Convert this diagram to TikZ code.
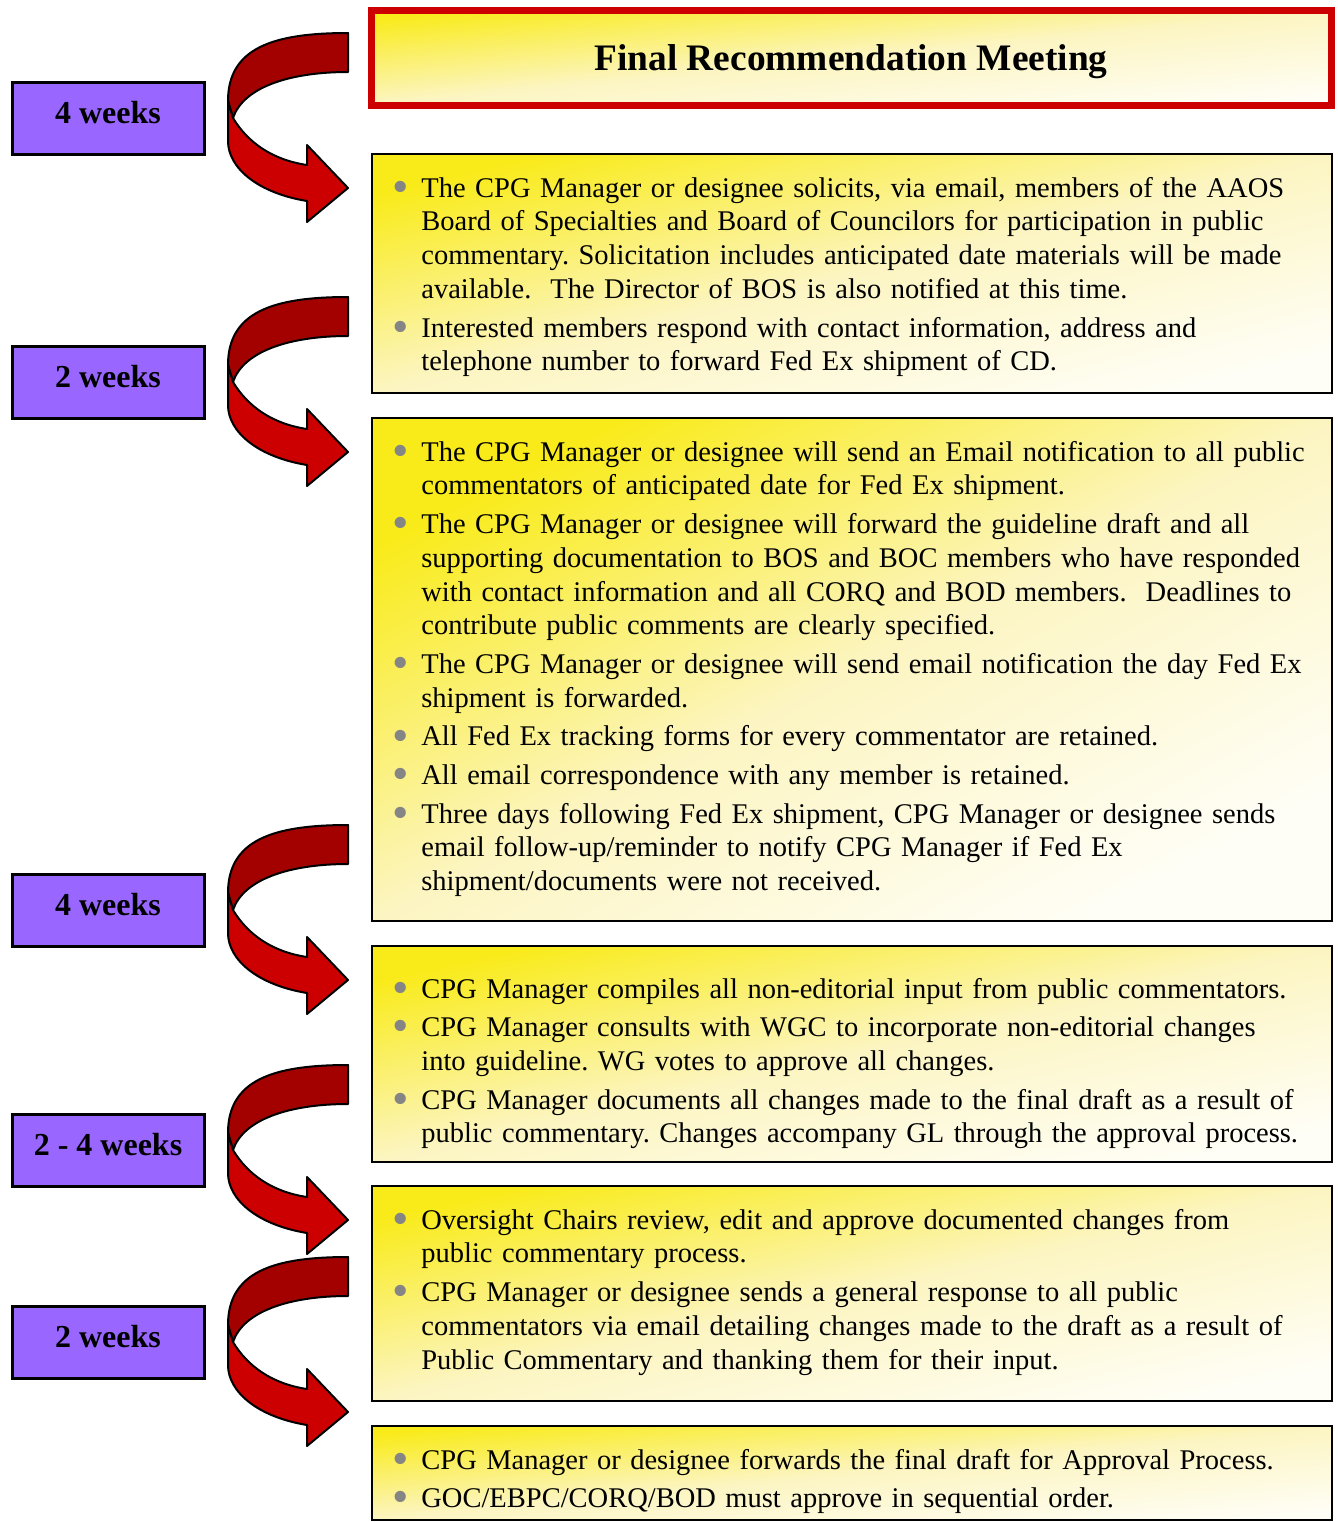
\documentclass[tikz,border=0pt]{standalone}
\usepackage{fontspec}
\usepackage{graphicx}
\setmainfont{Liberation Serif}
\definecolor{weekpurple}{HTML}{9966FF}
\definecolor{arrowred}{HTML}{CC0000}
\definecolor{arrowdark}{HTML}{A30000}
\definecolor{glowa}{HTML}{FFFEF6}
\definecolor{glowc}{HTML}{FCF5C2}
\definecolor{glowe}{HTML}{F9EB1A}
\definecolor{bulgray}{HTML}{858585}
\pgfdeclareverticalshading{noteglow}{100bp}{color(0bp)=(glowa); color(25bp)=(glowa); color(50bp)=(glowc); color(75bp)=(glowe); color(100bp)=(glowe)}
\newcommand{\firstbul}{\parskip=2.4pt\hangindent=13pt\hangafter=1\noindent\makebox[13pt][l]{\hspace{-1.5pt}\smash{\raisebox{-2.6pt}{\scalebox{1.65}{\textcolor{bulgray}{\textbullet}}}}}}
\newcommand{\bul}{\par\firstbul}

\begin{document}
\begin{tikzpicture}[x=0.5pt,y=-0.5pt]
\tikzset{weekbox/.style={draw, line width=1.5pt, fill=weekpurple, minimum width=96pt, minimum height=36pt, outer sep=0pt, font=\fontsize{16}{19}\selectfont\bfseries, text height=10pt, text depth=5pt}}
\tikzset{notebox/.style={draw, line width=1.2pt, shade, shading=noteglow, minimum width=480pt, outer sep=0pt}}
\tikzset{notetext/.style={anchor=base west, inner sep=0pt, text width=480pt, font=\fontsize{14.25}{16.9}\selectfont\frenchspacing}}
\tikzset{arrowline/.style={draw=black, line width=1pt, line join=round}}
\tikzset{bendarrow/.pic={
  \path[arrowline, fill=arrowdark] (0,0) .. controls (-75,0) and (-120,15) .. (-120,68)
    -- (-115,85) .. controls (-105,55) and (-60,39) .. (0,39) -- cycle;
  \path[arrowline, fill=arrowred] (-120,68) -- (-115,85) .. controls (-100,110) and (-75,127) .. (-41,132)
    -- (-41,112) -- (0,155) -- (-41,189) -- (-41,168)
    .. controls (-90,160) and (-120,135) .. (-120,108) -- cycle;
}}
\useasboundingbox (0,0) rectangle (1338,1522);

% weeks
\node[weekbox] (w1) at (108,118) {4 weeks};
\node[weekbox] (w2) at (108,382) {2 weeks};
\node[weekbox] (w3) at (108,910) {4 weeks};
\node[weekbox] (w4) at (108,1150) {2 - 4 weeks};
\node[weekbox] (w5) at (108,1342) {2 weeks};

% boxes (shading angle follows the diagonal of each box)
\node[notebox, shading angle=5.6, draw=arrowred, line width=3.5pt, minimum height=47.5pt, font=\fontsize{18.7}{22}\selectfont\bfseries, text height=16pt, text depth=3.5pt] (b0) at (851,57.5) {Final Recommendation Meeting};
\node[notebox, shading angle=14, minimum height=119.5pt] (b1) at (852,273.5) {};
\node[notebox, shading angle=27.6, minimum height=251.5pt] (b2) at (852,669.5) {};
\node[notebox, shading angle=12.7, minimum height=108pt] (b3) at (852,1054) {};
\node[notebox, shading angle=12.6, minimum height=107.5pt] (b4) at (852,1293.5) {};
\node[notebox, shading angle=5.6, minimum height=47pt] (b5) at (852,1473) {};

% arrows
\foreach \w in {w1,w2,w3,w4,w5}
  \pic at ([shift={(144,-49)}]\w.north east) {bendarrow};

% texts
\node[notetext] (t1) at (395,197) {%
\firstbul The CPG Manager or designee solicits, via email, members of the AAOS\newline Board of Specialties and Board of Councilors for participation in public\newline commentary. Solicitation includes anticipated date materials will be made\newline available.\ \ The Director of BOS is also notified at this time.
\bul Interested members respond with contact information, address and\newline telephone number to forward Fed Ex shipment of CD.\par};
\node[notetext] (t2) at (395,461) {%
\firstbul The CPG Manager or designee will send an Email notification to all public\newline commentators of anticipated date for Fed Ex shipment.
\bul The CPG Manager or designee will forward the guideline draft and all\newline supporting documentation to BOS and BOC members who have responded\newline with contact information and all CORQ and BOD members.\ \ Deadlines to\newline contribute public comments are clearly specified.
\bul The CPG Manager or designee will send email notification the day Fed Ex\newline shipment is forwarded.
\bul All Fed Ex tracking forms for every commentator are retained.
\bul All email correspondence with any member is retained.
\bul Three days following Fed Ex shipment, CPG Manager or designee sends\newline email follow-up/reminder to notify CPG Manager if Fed Ex\newline shipment/documents were not received.\par};
\node[notetext] (t3) at (395,998) {%
\firstbul CPG Manager compiles all non-editorial input from public commentators.
\bul CPG Manager consults with WGC to incorporate non-editorial changes\newline into guideline. WG votes to approve all changes.
\bul CPG Manager documents all changes made to the final draft as a result of\newline public commentary. Changes accompany GL through the approval process.\par};
\node[notetext] (t4) at (395,1229) {%
\firstbul Oversight Chairs review, edit and approve documented changes from\newline public commentary process.
\bul CPG Manager or designee sends a general response to all public\newline commentators via email detailing changes made to the draft as a result of\newline Public Commentary and thanking them for their input.\par};
\node[notetext] (t5) at (395,1469) {%
\firstbul CPG Manager or designee forwards the final draft for Approval Process.
\bul GOC/EBPC/CORQ/BOD must approve in sequential order.\par};
\end{tikzpicture}
\end{document}
